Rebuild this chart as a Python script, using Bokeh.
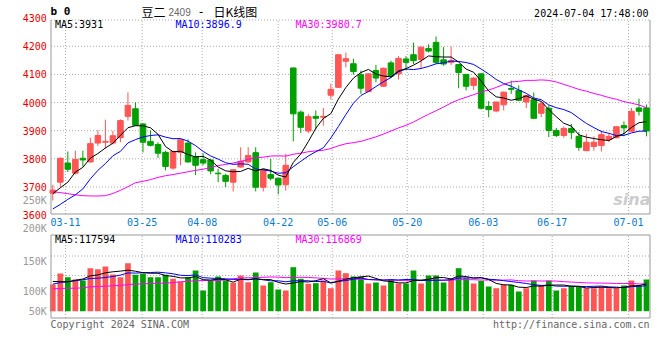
from bokeh.plotting import figure
from bokeh.models import Range1d, ColumnDataSource
from bokeh.core.properties import value
from bokeh.embed import file_html
from bokeh.resources import INLINE

# ---------------- data ----------------
dates = ["03-07", "03-08", "03-11", "03-12", "03-13", "03-14", "03-15", "03-18", "03-19", "03-20",
         "03-21", "03-22", "03-25", "03-26", "03-27", "03-28", "03-29", "04-01", "04-02", "04-03",
         "04-08", "04-09", "04-10", "04-11", "04-12", "04-15", "04-16", "04-17", "04-18", "04-19",
         "04-22", "04-23", "04-24", "04-25", "04-26", "04-29", "04-30", "05-06", "05-07", "05-08",
         "05-09", "05-10", "05-13", "05-14", "05-15", "05-16", "05-17", "05-20", "05-21", "05-22",
         "05-23", "05-24", "05-27", "05-28", "05-29", "05-30", "05-31", "06-03", "06-04", "06-05",
         "06-06", "06-07", "06-11", "06-12", "06-13", "06-14", "06-17", "06-18", "06-19", "06-20",
         "06-21", "06-24", "06-25", "06-26", "06-27", "06-28", "07-01", "07-02", "07-03", "07-04"]

open_ = [3678, 3717, 3785, 3749, 3802, 3789, 3856, 3859, 3856, 3875,
         3951, 3978, 3924, 3862, 3851, 3823, 3767, 3823, 3856, 3808,
         3797, 3796, 3749, 3741, 3717, 3771, 3789, 3822, 3699, 3744,
         3731, 3708, 4123, 3966, 3899, 3951, 3948, 4026, 4054, 4147,
         4138, 4099, 4039, 4114, 4058, 4141, 4102, 4155, 4170, 4153,
         4192, 4214, 4152, 4143, 4135, 4100, 4061, 4102, 3986, 3970,
         3992, 4050, 4043, 4002, 4010, 3962, 3980, 3901, 3883, 3908,
         3880, 3829, 3844, 3847, 3869, 3875, 3918, 3898, 3981, 3981]
high = [3708, 3805, 3826, 3829, 3829, 3875, 3901, 3939, 3899, 3940,
        4036, 4001, 3927, 3901, 3859, 3829, 3829, 3869, 3869, 3823,
        3820, 3798, 3765, 3747, 3763, 3841, 3841, 3841, 3763, 3800,
        3733, 3818, 4124, 3972, 3960, 3972, 3981, 4067, 4172, 4178,
        4156, 4114, 4104, 4134, 4124, 4149, 4165, 4165, 4213, 4198,
        4207, 4235, 4197, 4199, 4136, 4102, 4090, 4104, 4005, 4003,
        4039, 4078, 4061, 4027, 4036, 4004, 3990, 3910, 3915, 3924,
        3895, 3889, 3880, 3901, 3889, 3916, 3933, 3981, 4014, 3993]
low = [3652, 3699, 3753, 3744, 3772, 3787, 3846, 3836, 3851, 3859,
       3936, 3917, 3823, 3844, 3803, 3759, 3761, 3777, 3787, 3742,
       3777, 3745, 3717, 3699, 3684, 3768, 3787, 3684, 3684, 3723,
       3674, 3687, 3862, 3892, 3892, 3904, 3918, 4011, 4053, 4125,
       4099, 4031, 4037, 4072, 4056, 4087, 4082, 4114, 4137, 4123,
       4178, 4137, 4131, 4134, 4051, 4043, 4045, 3975, 3948, 3965,
       3972, 4031, 4005, 3980, 3942, 3948, 3877, 3877, 3875, 3870,
       3829, 3828, 3829, 3826, 3859, 3873, 3880, 3896, 3954, 3880]
close = [3689, 3802, 3763, 3798, 3796, 3854, 3883, 3862, 3882, 3936,
         3990, 3919, 3859, 3848, 3820, 3773, 3826, 3868, 3789, 3777,
         3785, 3757, 3747, 3720, 3761, 3791, 3812, 3699, 3761, 3731,
         3707, 3777, 3960, 3912, 3950, 3944, 3951, 4047, 4170, 4156,
         4110, 4051, 4102, 4087, 4122, 4094, 4157, 4143, 4149, 4197,
         4183, 4143, 4137, 4150, 4107, 4058, 4087, 3980, 3975, 4002,
         4037, 4047, 4008, 4025, 3944, 3996, 3901, 3883, 3908, 3894,
         3841, 3859, 3859, 3886, 3880, 3914, 3910, 3969, 3969, 3899]
volume = [115100, 162500, 146600, 136600, 132300, 185300, 181000, 192700, 158200, 146600,
          206900, 156900, 161200, 146600, 146600, 156900, 139700, 128000, 146600, 175400,
          89200, 132300, 149600, 132300, 122400, 153900, 125000, 166800, 110800, 125000,
          93500, 89200, 189700, 139700, 118100, 120700, 132300, 99100, 175400, 163800,
          149600, 149600, 119400, 123700, 110800, 136600, 119400, 119400, 175400, 119400,
          153900, 153900, 123700, 142200, 185300, 142200, 119400, 131000, 106500, 99100,
          113800, 113800, 84900, 99100, 132300, 110800, 132300, 89200, 99100, 106500,
          106500, 99100, 99100, 106500, 99100, 99100, 110800, 132300, 110800, 136600]

# moving-average values before a full window exists
ma5_head = [3676, 3697, 3717, 3753]
ma10_head = [3622, 3638, 3656, 3672, 3693, 3729, 3759, 3783, 3811]
ma30_head = [3683, 3680, 3676, 3672, 3669, 3668, 3668, 3669, 3677, 3688,
             3701, 3715, 3720, 3726, 3734, 3740, 3744, 3749, 3754, 3759,
             3763, 3769, 3776, 3780, 3785, 3791, 3798, 3804, 3806]
vma5_head = [128000, 128000, 126700, 133600]
vma10_head = [116400, 123700, 126700, 131000, 135300, 141000, 142200, 145300, 149600]
vma30_head = [96600, 97800, 99000, 99000, 100800, 105000, 106500, 107800, 109500, 110800,
              115000, 116400, 118000, 119400, 120700, 120700, 123700, 126700, 129300, 131000,
              132300, 132300, 132300, 135300, 140000, 143000, 144000, 145000, 146000]

ma_price_text = ["MA5:3931", "MA10:3896.9", "MA30:3980.7"]
ma_vol_text = ["MA5:117594", "MA10:110283", "MA30:116869"]
price_ticks = [3600, 3700, 3800, 3900, 4000, 4100, 4200, 4300]
price_grid = [3700, 3800, 3900, 4000, 4100, 4200]
date_tick_labels = ["03-11", "03-25", "04-08", "04-22", "05-06", "05-20", "06-03", "06-17", "07-01"]
vol_tick_labels = ["50K", "100K", "150K", "200K", "250K"]

# ---------------- layout constants ----------------
date_tick_pos = [1.69, 11.89, 19.88, 29.99, 37.18, 47.16, 57.27, 66.45, 76.61]
vol_label_pos = [-2600, 84900, 212900, 356500, 477200]
vol_grid_pos = [67700, 153900, 237900]
XC0, XS = 52.3, 7.515          # pixel of first candle, pixels per candle
PY0, PK = 214.6, 0.28134       # pixel of 3600, pixels per price point
VB, VK = 310.7, 0.000232       # pixel of zero volume, pixels per lot
W, H = 660, 350
MONO = "DejaVu Sans Mono"
RED, GREEN = "#ff5555", "#00a000"
GRID = "#ababab"
BORDER = "#999999"


def xd(px):
    return (px - XC0) / XS


def py(px):
    return 3600 + (PY0 - px) / PK


def vy(px):
    return (VB - px) / VK


X0, X1 = xd(50.5), xd(649.5)   # panel borders
P0, P1 = py(213.5), py(19.5)
V0, V1 = vy(317.5), vy(234.5)


def rolling(vals, n, head):
    out = list(head)
    for i in range(len(head), len(vals)):
        out.append(sum(vals[i - n + 1:i + 1]) / n)
    return out


x = list(range(len(dates)))
ma5 = rolling(close, 5, ma5_head)
ma10 = rolling(close, 10, ma10_head)
ma30 = rolling(close, 30, ma30_head)
vma5 = rolling(volume, 5, vma5_head)
vma10 = rolling(volume, 10, vma10_head)
vma30 = rolling(volume, 30, vma30_head)
colors = [RED if c >= o else GREEN for o, c in zip(open_, close)]

src = ColumnDataSource(dict(
    x=x, date=dates, high=high, low=low, vol=volume, color=colors,
    top=[max(o, c) for o, c in zip(open_, close)],
    bottom=[min(o, c) for o, c in zip(open_, close)]))

p = figure(width=W, height=H,
           x_range=Range1d(xd(0), xd(W)), y_range=Range1d(py(H), py(0)),
           output_backend="svg", toolbar_location=None, title=None,
           x_axis_location=None, y_axis_location=None, min_border=0,
           background_fill_color="white", border_fill_color="white",
           outline_line_color=None)
p.extra_y_ranges = {"vol": Range1d(vy(H), vy(0))}
p.xgrid.visible = False
p.ygrid.visible = False

dot = dict(line_color=GRID, line_width=1, line_dash="1 2")
n_g, n_d, n_v = len(price_grid), len(date_tick_pos), len(vol_grid_pos)

# ---- price panel grid + frame ----
p.segment(x0=[X0] * n_g, y0=price_grid, x1=[X1] * n_g, y1=price_grid, **dot)
p.segment(x0=date_tick_pos, y0=[P0] * n_d, x1=date_tick_pos, y1=[P1] * n_d, **dot)
p.segment(x0=[X0], y0=[P1], x1=[X1], y1=[P1], **dot)
p.segment(x0=[X0, X1, X0], y0=[P0, P0, P0], x1=[X0, X1, X1], y1=[P1, P1, P0],
          line_color=BORDER, line_width=1)

# ---- volume panel grid ----
p.segment(x0=[X0] * n_v, y0=vol_grid_pos, x1=[X1] * n_v, y1=vol_grid_pos,
          y_range_name="vol", **dot)
p.segment(x0=date_tick_pos, y0=[V0] * n_d, x1=date_tick_pos, y1=[V1] * n_d,
          y_range_name="vol", **dot)

# ---- candles ----
p.segment(x0="x", y0="low", x1="x", y1="high", line_color="color", line_width=1, source=src)
p.vbar(x="x", width=0.74, top="top", bottom="bottom", fill_color="color",
       line_color="color", line_width=1, source=src)
p.line(x, ma30, line_color="#ff00ff", line_width=1)
p.line(x, ma10, line_color="#0000ff", line_width=1)
p.line(x, ma5, line_color="black", line_width=1)

# ---- volume bars ----
p.vbar(x="x", width=0.76, top="vol", bottom=0, fill_color="color", line_color=None,
       source=src, y_range_name="vol")
p.line(x, vma30, line_color="#ff00ff", line_width=1, y_range_name="vol")
p.line(x, vma10, line_color="#0000ff", line_width=1, y_range_name="vol")
p.line(x, vma5, line_color="black", line_width=1, y_range_name="vol")
p.quad(left=[X0], right=[X1], bottom=[V0], top=[V1], fill_color=None,
       line_color=BORDER, line_width=1, y_range_name="vol")


def txt(text, xs, ys, color="black", size="10px", align="left", font=MONO,
        style="normal", rng="default"):
    p.text(x=xs, y=ys, text=text, text_color=color, text_font_size=value(size),
           text_align=align, text_baseline="middle", text_font=value(font),
           text_font_style=style, y_range_name=rng)


# axis labels
txt([str(t) for t in price_ticks], [xd(46.3)] * len(price_ticks), price_ticks,
    color="#e80000", align="right")
txt(date_tick_labels, date_tick_pos, [py(221.3)] * n_d, color="#0a7ad2", align="center")
txt(vol_tick_labels, [xd(46.3)] * len(vol_tick_labels), vol_label_pos, color="#999999",
    align="right", rng="vol")

# header
txt(["b 0"], [xd(50)], [py(11)], size="11px", style="bold")
txt(["豆二"], [xd(141)], [py(10.5)], size="12px", font="Noto Sans CJK SC")
txt(["2409"], [xd(168)], [py(11)], color="#666666", size="10px", font="Liberation Sans")
txt(["-"], [xd(197)], [py(10.5)], size="12px")
txt(["日K线图"], [xd(213)], [py(10.5)], size="12px", font="Noto Sans CJK SC")
txt(["2024-07-04 17:48:00"], [xd(648)], [py(12.5)], align="right")

# MA legends
txt([ma_price_text[0]], [xd(54.5)], [py(24.3)], color="black")
txt([ma_price_text[1]], [xd(175)], [py(24.3)], color="#0000ff")
txt([ma_price_text[2]], [xd(295)], [py(24.3)], color="#ff00ff")
txt([ma_vol_text[0]], [xd(54.5)], [vy(239)], color="black", rng="vol")
txt([ma_vol_text[1]], [xd(175)], [vy(239)], color="#0000ff", rng="vol")
txt([ma_vol_text[2]], [xd(295)], [vy(239)], color="#ff00ff", rng="vol")

# watermark and footer
txt(["sina"], [xd(650)], [py(199)], color="#cccccc", size="16px", align="right",
    font="DejaVu Sans", style="bold italic")
txt(["Copyright 2024 SINA.COM"], [xd(50)], [vy(323.7)], color="#666666", rng="vol")
txt(["http://finance.sina.com.cn"], [xd(649)], [vy(323.7)], color="#666666",
    align="right", rng="vol")

open("out.html", "w").write(file_html(p, INLINE))
